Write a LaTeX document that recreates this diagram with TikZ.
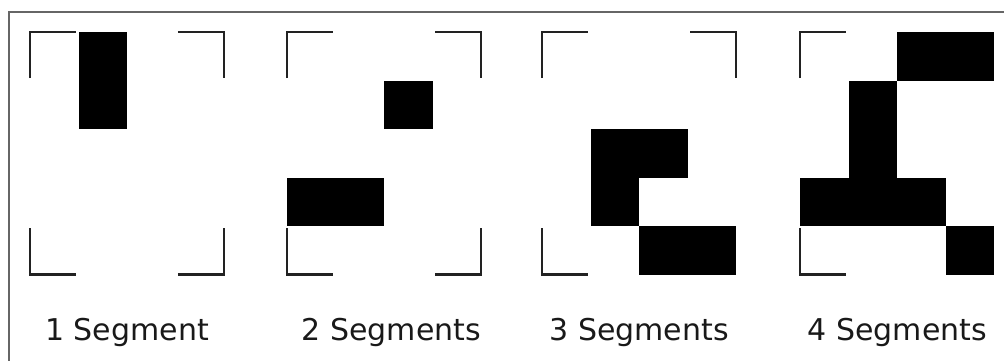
\documentclass[tikz,border=0pt]{standalone}
\usepackage{fontspec}
\setmainfont{DejaVu Sans}
\usepackage{xcolor}
\definecolor{cBracket}{HTML}{222222}
\definecolor{cFrame}{HTML}{666666}
\definecolor{cBlock}{HTML}{000000}
\tikzset{
  frameline/.style={draw=cFrame, line width=0.9pt},
  bracket/.style={draw=cBracket, line width=1.4pt, line cap=butt, line join=miter},
  block/.style={fill=cBlock},
  caption/.style={font=\fontsize{17.6}{20}\selectfont, text=black!90, anchor=base},
}
% corner brackets of one 4x5 grid, arm length 0.95
\newcommand{\cornerTL}{\draw[bracket] (0,-0.95) -- (0,0) -- (0.95,0);}
\newcommand{\cornerTR}{\draw[bracket] (3.05,0) -- (4,0) -- (4,-0.95);}
\newcommand{\cornerBL}{\draw[bracket] (0,-4.05) -- (0,-5) -- (0.95,-5);}
\newcommand{\cornerBR}{\draw[bracket] (3.05,-5) -- (4,-5) -- (4,-4.05);}
% filled segment: column, row, width, height (in cells)
\newcommand{\segblock}[4]{\fill[block] (#1,-#2) rectangle ++(#3,-#4);}

\begin{document}
\begin{tikzpicture}

  \useasboundingbox (-0.619,0.66) rectangle (20.08,-6.78);

  % outer frame (left and top edges only)
  \draw[frameline] (-0.433,-6.9) -- (-0.433,0.41) -- (20.2,0.41);

  % Panel 1 -- one segment
  \begin{scope}[xshift=0cm]
    \cornerTL \cornerTR \cornerBL \cornerBR
    \segblock{1}{0}{1}{2}
    \node[caption] (cap1) at (2,-6.37) {1 Segment};
  \end{scope}

  % Panel 2 -- two segments
  \begin{scope}[xshift=5.3cm]
    \cornerTL \cornerTR \cornerBL \cornerBR
    \segblock{2}{1}{1}{1}
    \segblock{0}{3}{2}{1}
    \node[caption] (cap2) at (2.15,-6.37) {2 Segments};
  \end{scope}

  % Panel 3 -- three segments
  \begin{scope}[xshift=10.56cm]
    \cornerTL \cornerTR \cornerBL
    \segblock{1}{2}{2}{1}
    \segblock{1}{3}{1}{1}
    \segblock{2}{4}{2}{1}
    \node[caption] (cap3) at (2,-6.37) {3 Segments};
  \end{scope}

  % Panel 4 -- four segments
  \begin{scope}[xshift=15.88cm]
    \cornerTL \cornerBL
    \segblock{2}{0}{2}{1}
    \segblock{1}{1}{1}{2}
    \segblock{0}{3}{3}{1}
    \segblock{3}{4}{1}{1}
    \node[caption] (cap4) at (2,-6.37) {4 Segments};
  \end{scope}

\end{tikzpicture}
\end{document}
